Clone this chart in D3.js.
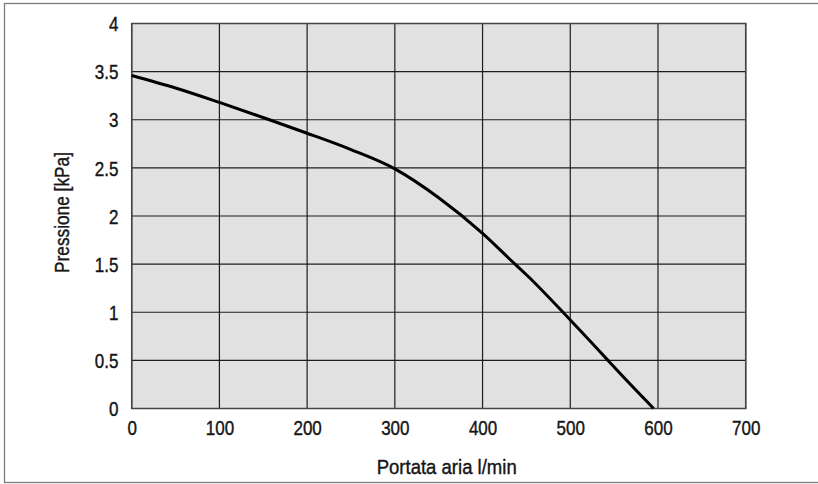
<!DOCTYPE html>
<html><head><meta charset="utf-8">
<script src="https://cdn.jsdelivr.net/npm/d3@7/dist/d3.min.js"></script>
<style>body{margin:0;background:#fff}svg{display:block}</style>
</head><body>
<script>
const flow = [0, 50, 100, 157, 200, 250, 300, 350, 400, 437, 450, 500, 543, 550, 595];
const pressure = [3.46, 3.33, 3.18, 3.0, 2.86, 2.69, 2.49, 2.19, 1.82, 1.5, 1.39, 0.92, 0.5, 0.43, 0];
const xTicks = [0, 100, 200, 300, 400, 500, 600, 700];
const yTicks = [0, 0.5, 1, 1.5, 2, 2.5, 3, 3.5, 4];
const xTitle = "Portata aria l/min";
const yTitle = "Pressione [kPa]";

const W = 818, H = 484;
const font = "'Liberation Sans','Arial',sans-serif";
const ink = "#151515";
const svg = d3.select("body").append("svg").attr("width", W).attr("height", H);
svg.append("rect").attr("x", 4.5).attr("y", 3.5).attr("width", 830).attr("height", 479)
  .attr("fill", "#fff").attr("stroke", "#7a7a7a").attr("stroke-width", 1.3);

const x = d3.scaleLinear().domain([0, 700]).range([131.7, 745.7]);
const y = d3.scaleLinear().domain([0, 4]).range([408.5, 23.5]);

svg.append("rect").attr("x", x(0)).attr("y", y(4)).attr("width", x(700) - x(0)).attr("height", y(0) - y(4))
  .attr("fill", "#e1e1e1");

const g = svg.append("g");
g.selectAll(".vg").data(xTicks).join("line")
  .attr("x1", d => x(d)).attr("x2", d => x(d)).attr("y1", y(0)).attr("y2", y(4))
  .attr("stroke", "#1e1e1e").attr("stroke-width", 1.2);
g.selectAll(".hg").data(yTicks).join("line")
  .attr("y1", d => y(d)).attr("y2", d => y(d)).attr("x1", x(0)).attr("x2", x(700))
  .attr("stroke", "#1e1e1e").attr("stroke-width", 1.2);
svg.append("rect").attr("x", x(0)).attr("y", y(4)).attr("width", x(700) - x(0)).attr("height", y(0) - y(4))
  .attr("fill", "none").attr("stroke", "#444").attr("stroke-width", 1.5);

const data = flow.map((f, i) => [f, pressure[i]]);
svg.append("path").datum(data)
  .attr("d", d3.line().x(d => x(d[0])).y(d => y(d[1])).curve(d3.curveMonotoneX))
  .attr("fill", "none").attr("stroke", "#000").attr("stroke-width", 3);

const xAxis = svg.append("g").attr("transform", `translate(0,${y(0)})`)
  .call(d3.axisBottom(x).tickValues(xTicks).tickSize(0).tickFormat(d3.format("d")));
xAxis.select(".domain").remove();
xAxis.selectAll("text").attr("font-family", font).attr("font-size", 20).attr("fill", ink)
  .attr("stroke", ink).attr("stroke-width", 0.4)
  .attr("y", 26.5).attr("dy", 0).attr("transform", "scale(0.85,1)");

const yAxis = svg.append("g").attr("transform", `translate(${x(0)},0)`)
  .call(d3.axisLeft(y).tickValues(yTicks).tickSize(0).tickFormat(d => String(d)));
yAxis.select(".domain").remove();
yAxis.selectAll("text").attr("font-family", font).attr("font-size", 20).attr("fill", ink)
  .attr("stroke", ink).attr("stroke-width", 0.4)
  .attr("x", -15.6).attr("dy", "0.36em").attr("transform", "scale(0.85,1)");

svg.append("text").attr("x", 376.7).attr("y", 474)
  .attr("font-family", font).attr("font-size", 20.5).attr("fill", ink)
  .attr("stroke", ink).attr("stroke-width", 0.4)
  .attr("textLength", 140).attr("lengthAdjust", "spacingAndGlyphs").text(xTitle);
svg.append("text").attr("transform", "translate(69,273) rotate(-90)")
  .attr("font-family", font).attr("font-size", 20.5).attr("fill", ink)
  .attr("stroke", ink).attr("stroke-width", 0.4)
  .attr("textLength", 121).attr("lengthAdjust", "spacingAndGlyphs").text(yTitle);
</script>
</body></html>
